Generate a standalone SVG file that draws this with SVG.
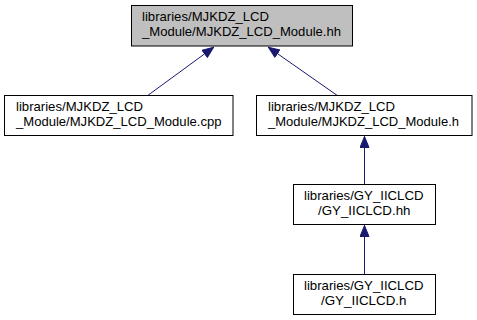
<svg xmlns="http://www.w3.org/2000/svg" width="477" height="320" viewBox="0 0 477 320">
  <style>
    .box { fill: #ffffff; stroke: #000000; stroke-width: 1; }
    .cur { fill: #bfbfbf; }
    text { font-family: "Liberation Sans", Arial, sans-serif; font-size: 13.5px; fill: #000000; }
    .c { text-anchor: middle; }
    .edge { stroke: #191970; stroke-width: 1; fill: none; }
  </style>
  <defs>
    <marker id="arr" viewBox="0 0 12 10" refX="12" refY="5" markerWidth="12" markerHeight="10" markerUnits="userSpaceOnUse" orient="auto">
      <path d="M0.5,0.5 L11.5,5 L0.5,9.5 z" fill="#191970" stroke="#191970"/>
    </marker>
  </defs>

  <g id="edges">
    <line class="edge" x1="147" y1="96" x2="214" y2="47" marker-end="url(#arr)"/>
    <line class="edge" x1="338" y1="96" x2="268" y2="47" marker-end="url(#arr)"/>
    <line class="edge" x1="364.5" y1="184" x2="364.5" y2="136" marker-end="url(#arr)"/>
    <line class="edge" x1="364.5" y1="274" x2="364.5" y2="225" marker-end="url(#arr)"/>
  </g>

  <g id="node-hh">
    <rect class="box cur" x="131.5" y="5.5" width="221" height="40.5"/>
    <text x="142" y="21" textLength="127" lengthAdjust="spacingAndGlyphs">libraries/MJKDZ_LCD</text>
    <text x="142" y="36" textLength="199" lengthAdjust="spacingAndGlyphs">_Module/MJKDZ_LCD_Module.hh</text>
  </g>

  <g id="node-cpp">
    <rect class="box" x="4.5" y="95.5" width="228.5" height="40"/>
    <text x="16" y="111" textLength="127" lengthAdjust="spacingAndGlyphs">libraries/MJKDZ_LCD</text>
    <text x="16" y="126" textLength="205.5" lengthAdjust="spacingAndGlyphs">_Module/MJKDZ_LCD_Module.cpp</text>
  </g>

  <g id="node-h">
    <rect class="box" x="256.5" y="95.5" width="215.5" height="40"/>
    <text x="268" y="111" textLength="127" lengthAdjust="spacingAndGlyphs">libraries/MJKDZ_LCD</text>
    <text x="268" y="126" textLength="191" lengthAdjust="spacingAndGlyphs">_Module/MJKDZ_LCD_Module.h</text>
  </g>

  <g id="node-gy-hh">
    <rect class="box" x="293.5" y="184.5" width="142" height="40"/>
    <text x="304" y="200" textLength="119.5" lengthAdjust="spacingAndGlyphs">libraries/GY_IICLCD</text>
    <text x="318" y="215" textLength="92.5" lengthAdjust="spacingAndGlyphs">/GY_IICLCD.hh</text>
  </g>

  <g id="node-gy-h">
    <rect class="box" x="293.5" y="274.5" width="142" height="40"/>
    <text x="304" y="290" textLength="119.5" lengthAdjust="spacingAndGlyphs">libraries/GY_IICLCD</text>
    <text x="321" y="305" textLength="85.5" lengthAdjust="spacingAndGlyphs">/GY_IICLCD.h</text>
  </g>
</svg>
